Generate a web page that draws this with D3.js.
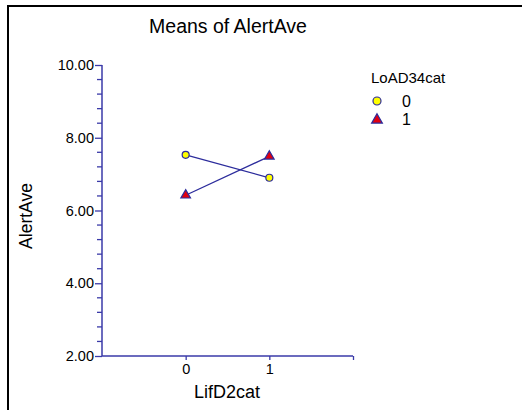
<!DOCTYPE html>
<html><head><meta charset="utf-8">
<script src="https://cdn.jsdelivr.net/npm/d3@7"></script>
<style>body{margin:0;background:#fff}svg{display:block}text{font-family:"Liberation Sans",Arial,sans-serif;fill:#000}</style>
</head><body>
<svg id="c" width="522" height="410"></svg>
<script>
const title = "Means of AlertAve";
const xLabel = "LifD2cat";
const yLabel = "AlertAve";
const legendTitle = "LoAD34cat";
const categories = [0, 1];
const seriesNames = ["0", "1"];
const series0 = [7.53, 6.90];
const series1 = [6.42, 7.49];
const yTicks = [2, 4, 6, 8, 10];

const svg = d3.select("#c");
const axisColor = "#3a3aa8";
const lineColor = "#2c2c9c";

// frame
svg.append("line").attr("x1",7).attr("x2",522).attr("y1",6).attr("y2",6).attr("stroke","#000").attr("stroke-width",2);
svg.append("line").attr("x1",8).attr("x2",8).attr("y1",5).attr("y2",410).attr("stroke","#000").attr("stroke-width",2);

const x = d3.scaleLinear().domain([-1, 2]).range([102, 353]);
const y = d3.scaleLinear().domain([2, 10]).range([356, 65]);

svg.append("text").attr("x",228).attr("y",33).attr("text-anchor","middle").style("font-size","19.5px").text(title);

// y axis
const yMinor = d3.range(2, 10.001, 0.4).filter(v => Math.abs(v/2 - Math.round(v/2)) > 1e-6);
const yAxisG = svg.append("g").attr("transform",`translate(${x(-1)},0)`);
yAxisG.call(d3.axisLeft(y).tickValues(yTicks).tickFormat(d3.format(".2f")).tickSize(7).tickPadding(1));
yAxisG.selectAll(".tick line").attr("stroke",axisColor).attr("stroke-width",1.3);
yAxisG.select(".domain").attr("stroke",axisColor).attr("stroke-width",1.5).attr("d",`M0,${y(2)}V${y(10)}`);
yAxisG.selectAll(".tick text").style("font-size","14.5px").style("font-family","Liberation Sans, Arial, sans-serif").attr("fill","#000");
yAxisG.selectAll(".minor").data(yMinor).join("line").attr("class","minor")
  .attr("x1",-5).attr("x2",0).attr("y1",d=>y(d)).attr("y2",d=>y(d)).attr("stroke",axisColor).attr("stroke-width",1.3);

// x axis
const xAxisG = svg.append("g").attr("transform",`translate(0,${y(2)})`);
xAxisG.call(d3.axisBottom(x).tickValues([0,1,2]).tickFormat(d => categories.includes(d) ? d : "").tickSize(4).tickPadding(4));
xAxisG.selectAll(".tick line").attr("stroke",axisColor).attr("stroke-width",1.3);
xAxisG.select(".domain").attr("stroke",axisColor).attr("stroke-width",1.5).attr("d",`M${x(-1)},0H${x(2)}`);
xAxisG.selectAll(".tick text").style("font-size","14.5px").style("font-family","Liberation Sans, Arial, sans-serif").attr("fill","#000");

svg.append("text").attr("x",227).attr("y",398).attr("text-anchor","middle").style("font-size","18px").text(xLabel);
svg.append("text").attr("transform","translate(32,216) rotate(-90)").attr("text-anchor","middle").style("font-size","17.5px").text(yLabel);

// lines and markers
const line = d3.line().x((d,i)=>x(categories[i])).y(d=>y(d));
[series0, series1].forEach(s => {
  svg.append("path").attr("d", line(s)).attr("fill","none").attr("stroke",lineColor).attr("stroke-width",1.3);
});
const tri = d3.symbol().type(d3.symbolTriangle).size(40);
svg.selectAll(".c0").data(series0).join("circle").attr("cx",(d,i)=>x(categories[i])).attr("cy",d=>y(d)).attr("r",3.5)
  .attr("fill","#ffff00").attr("stroke",lineColor).attr("stroke-width",1.2);
svg.selectAll(".t1").data(series1).join("path").attr("d",tri).attr("transform",(d,i)=>`translate(${x(categories[i])},${y(d)})`)
  .attr("fill","#e00010").attr("stroke",lineColor).attr("stroke-width",1.2);

// legend
svg.append("text").attr("x",371).attr("y",83).style("font-size","15px").text(legendTitle);
svg.append("circle").attr("cx",377).attr("cy",101).attr("r",4).attr("fill","#ffff00").attr("stroke",lineColor).attr("stroke-width",1.2);
svg.append("path").attr("d",d3.symbol().type(d3.symbolTriangle).size(50)).attr("transform","translate(377,120)")
  .attr("fill","#e00010").attr("stroke",lineColor).attr("stroke-width",1.2);
seriesNames.forEach((n,i)=>{
  svg.append("text").attr("x",402).attr("y",107+i*18).style("font-size","16px").text(n);
});
</script>
</body></html>
